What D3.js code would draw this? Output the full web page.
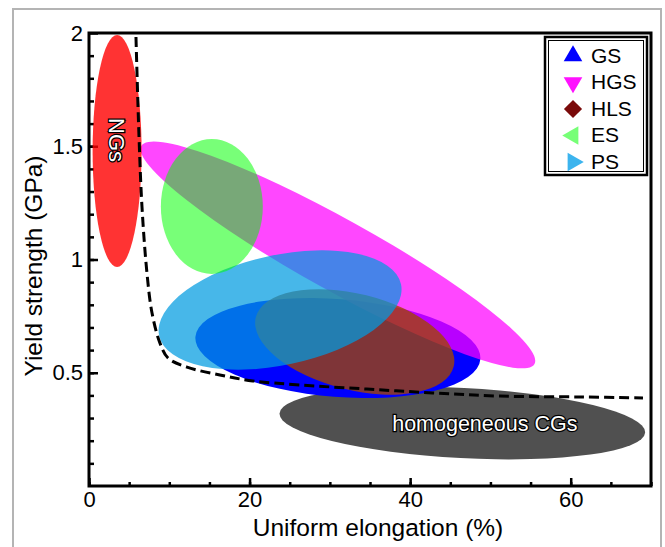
<!DOCTYPE html>
<html>
<head>
<meta charset="utf-8">
<script src="https://cdn.jsdelivr.net/npm/d3@7"></script>
<style>
body { margin: 0; background: #fff; }
svg { font-family: "Liberation Sans", Arial, sans-serif; }
</style>
</head>
<body>
<svg id="chart"></svg>
<script>
// Yield strength vs uniform elongation chart

// ellipse regions (data units: % and GPa), drawn in this order
var ellipseNames = ["CGs", "GS", "HGS", "HLS", "PS", "ES", "NGs"];
var ellipseX = [46.5, 31.0, 31.0, 33.1, 23.8, 15.3, 3.5];
var ellipseY = [0.278, 0.609, 1.02, 0.636, 0.777, 1.234, 1.479];
var ellipseRx = [22.8, 17.8, 28.0, 12.7, 15.4, 6.35, 3.05];
var ellipseRy = [0.155, 0.216, 0.158, 0.212, 0.243, 0.298, 0.512];
var ellipseTilt = [3, 4.5, 29, 14, -12, 0, 0];

// dashed boundary line
var boundaryX = [5.85, 6.23, 6.6, 7.22, 7.85, 8.84, 9.84, 12.2, 16.3, 20.4, 26.3, 34.6, 42.8, 51.2, 61.5, 69.0];
var boundaryY = [1.982, 1.541, 1.232, 0.94, 0.764, 0.631, 0.565, 0.525, 0.49, 0.464, 0.446, 0.428, 0.411, 0.397, 0.393, 0.389];

// legend
var legendNames = ["GS", "HGS", "HLS", "ES", "PS"];

// ticks
var xMajorTicks = [0, 20, 40, 60];
var yMajorTicks = [0.5, 1, 1.5, 2];

var fills = {
  CGs: "#505050", GS: "#0000ff", HGS: "#ff00ff", HLS: "rgb(163,68,0)",
  PS: "rgb(0,155,225)", ES: "#00ff00", NGs: "#ff0000"
};
var opacities = { CGs: 1, GS: 1, HGS: 0.72, HLS: 0.78, PS: 0.72, ES: 0.53, NGs: 0.8 };
var legendColors = { GS: "#0000ff", HGS: "#ff11ff", HLS: "#7a0a0a", ES: "#77ff77", PS: "#3cb4ee" };
var legendShapes = { GS: [d3.symbolTriangle, 0], HGS: [d3.symbolTriangle, 180], HLS: [d3.symbolSquare, 45], ES: [d3.symbolTriangle, -90], PS: [d3.symbolTriangle, 90] };

var W = 665, H = 547;
var margin = {top: 33, right: 14, bottom: 61, left: 89},
width = W - margin.left - margin.right,
height = H - margin.top - margin.bottom;

var svg = d3.select("#chart")
.attr("width", W)
.attr("height", H);

// light grey frame round the figure
svg.append("rect")
.attr("x", 13).attr("y", 9)
.attr("width", 648).attr("height", 560)
.attr("fill", "none")
.attr("stroke", "#b4b4b4")
.attr("stroke-width", 2);

var g = svg.append("g")
.attr("transform", "translate(" + margin.left + "," + margin.top + ")");

var x = d3.scaleLinear().domain([0, 70]).range([0, width]);
var y = d3.scaleLinear().domain([0, 2]).range([height, 0]);

// x axis, minor then major ticks pointing inward
g.append("g")
.attr("transform", "translate(0," + height + ")")
.call(d3.axisBottom(x).tickValues(d3.range(0, 71, 5)).tickSize(-4).tickFormat(""))
.call(function(a){ a.select(".domain").remove(); });

g.append("g")
.attr("class", "xmajor")
.attr("transform", "translate(0," + height + ")")
.call(d3.axisBottom(x).tickValues(xMajorTicks).tickSize(-8).tickPadding(5).tickFormat(d3.format("d")))
.call(function(a){ a.select(".domain").remove(); });

// y axis
g.append("g")
.call(d3.axisLeft(y).tickValues(d3.range(1, 20).map(function(d){ return d / 10; })).tickSize(-5).tickFormat(""))
.call(function(a){ a.select(".domain").remove(); });

g.append("g")
.attr("class", "ymajor")
.call(d3.axisLeft(y).tickValues(yMajorTicks).tickSize(-9).tickPadding(6).tickFormat(d3.format("")))
.call(function(a){ a.select(".domain").remove(); });

g.selectAll(".tick line").attr("stroke", "#000").attr("stroke-width", 2.5);
g.selectAll(".xmajor text, .ymajor text")
.style("font-size", "22px")
.attr("fill", "#000");

// ellipses
g.selectAll(".region")
.data(ellipseNames)
.enter()
.append("ellipse")
.attr("class", "region")
.attr("transform", function(d, i){
  return "translate(" + x(ellipseX[i]) + "," + y(ellipseY[i]) + ")rotate(" + ellipseTilt[i] + ")";
})
.attr("rx", function(d, i){ return x(ellipseRx[i]) - x(0); })
.attr("ry", function(d, i){ return y(0) - y(ellipseRy[i]); })
.attr("fill", function(d){ return fills[d]; })
.attr("fill-opacity", function(d){ return opacities[d]; });

// labels on ellipses
var iNG = ellipseNames.indexOf("NGs"), iCG = ellipseNames.indexOf("CGs");
g.append("text")
.attr("transform", "translate(" + x(ellipseX[iNG]) + "," + (y(ellipseY[iNG]) - 11) + ")rotate(90)")
.attr("text-anchor", "middle")
.attr("dy", "0.35em")
.style("font-size", "22px")
.attr("fill", "#fff")
.attr("stroke", "#000")
.attr("stroke-width", 2.5)
.attr("paint-order", "stroke")
.text("NGs");

g.append("text")
.attr("x", x(ellipseX[iCG] + 2.8))
.attr("y", y(ellipseY[iCG]))
.attr("text-anchor", "middle")
.attr("dy", "0.35em")
.style("font-size", "21.5px")
.attr("fill", "#fff")
.attr("stroke", "#000")
.attr("stroke-width", 2.5)
.attr("paint-order", "stroke")
.text("homogeneous CGs");

// dashed boundary
var line = d3.line()
.x(function(d){ return x(d[0]); })
.y(function(d){ return y(d[1]); })
.curve(d3.curveCatmullRom);

g.append("path")
.datum(boundaryX.map(function(v, i){ return [v, boundaryY[i]]; }))
.attr("d", line)
.attr("fill", "none")
.attr("stroke", "#000")
.attr("stroke-width", 3)
.attr("stroke-dasharray", "10,5");

// plot frame
g.append("rect")
.attr("width", width)
.attr("height", height)
.attr("fill", "none")
.attr("stroke", "#000")
.attr("stroke-width", 3);

// legend
var legend = g.append("g")
.attr("transform", "translate(" + (545 - margin.left) + "," + (37 - margin.top) + ")");

legend.append("rect")
.attr("width", 102).attr("height", 138)
.attr("fill", "#fff")
.attr("stroke", "#000")
.attr("stroke-width", 2.5);
legend.append("rect")
.attr("x", 3.5).attr("y", 3.5)
.attr("width", 95).attr("height", 131)
.attr("fill", "none")
.attr("stroke", "#000")
.attr("stroke-width", 1);

var item = legend.selectAll(".item")
.data(legendNames)
.enter()
.append("g")
.attr("class", "item")
.attr("transform", function(d, i){ return "translate(0," + (18 + i * 26.5) + ")"; });

item.append("path")
.attr("transform", function(d){ return "translate(28,1)rotate(" + legendShapes[d][1] + ")"; })
.attr("d", function(d){ return d3.symbol().type(legendShapes[d][0]).size(d === "HLS" ? 165 : 150)(); })
.attr("fill", function(d){ return legendColors[d]; });

item.append("text")
.attr("x", 46)
.attr("dy", "0.36em")
.style("font-size", "21px")
.text(function(d){ return d; });

// axis titles
svg.append("text")
.attr("x", 378)
.attr("y", 536)
.attr("text-anchor", "middle")
.style("font-size", "24.5px")
.text("Uniform elongation (%)");

svg.append("text")
.attr("transform", "translate(42,266)rotate(-90)")
.attr("text-anchor", "middle")
.style("font-size", "24.5px")
.text("Yield strength (GPa)");
</script>
</body>
</html>
